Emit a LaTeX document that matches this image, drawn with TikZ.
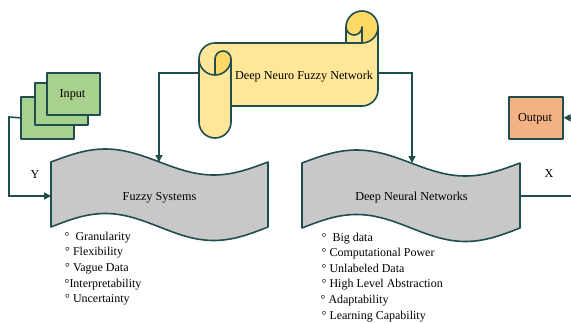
\documentclass[tikz,border=0pt]{standalone}
\usepackage{fontspec}
\setmainfont{Liberation Serif}
\usetikzlibrary{arrows.meta}
\definecolor{edge}{RGB}{31,78,77}
\definecolor{tapegray}{RGB}{200,200,200}
\definecolor{ingreen}{RGB}{169,209,142}
\definecolor{outorange}{RGB}{244,177,131}
\definecolor{scrollfill}{RGB}{255,230,153}
\definecolor{scrolldark}{RGB}{255,217,102}
\begin{document}
\begin{tikzpicture}[x=1pt,y=-1pt,
  every node/.style={font=\fontsize{12.2}{14}\selectfont, inner sep=0pt},
  outline/.style={draw=edge, line width=1.6pt, line join=round},
  conn/.style={draw=edge, line width=1.6pt},
  arr/.style={conn, -{Triangle[length=7pt,width=7pt]}},
  box/.style={outline, minimum width=53pt, minimum height=42pt, anchor=north west},
  item/.style={anchor=base west, font=\fontsize{12}{14}\selectfont},
  lbl/.style={anchor=base}
]
\useasboundingbox (0,0) rectangle (571,324);
\clip (0,0) rectangle (571,324);

% Input stack
\node[box, fill=ingreen] (in3) at (20,96) {};
\node[box, fill=ingreen] (in2) at (34,82) {};
\node[box, fill=ingreen] (in1) at (46,72) {};
\node[lbl] (intext) at (72.5,97.3) {Input};

% Output
\node[box, fill=outorange, minimum width=54pt] (out) at (508,96) {};
\node[lbl] (outtext) at (535,121.7) {Output};

% Fuzzy Systems tape
\path[outline, fill=tapegray] (51,162) sin (105.25,149) cos (159.5,162) sin (213.75,175) cos (268,162)
  -- (268,227) sin (213.75,240.5) cos (159.5,227) sin (105.25,213.5) cos (51,227) -- cycle;
\node[lbl] (fz) at (159.5,200) {Fuzzy Systems};

% Deep Neural Networks tape
\path[outline, fill=tapegray] (302,163) sin (356.5,150) cos (411,163) sin (465.5,176) cos (520,163)
  -- (520,228) sin (465.5,241.5) cos (411,228) sin (356.5,214.5) cos (302,228) -- cycle;
\node[lbl] (nn) at (411.5,200) {Deep Neural Networks};

% Scroll
\fill[scrollfill] (378,27) arc[start angle=0,end angle=90,radius=16] -- (362,27)
  arc[start angle=0,end angle=180,radius=8] -- (346,43) -- (215,43)
  arc[start angle=270,end angle=180,radius=16] -- (199,122)
  arc[start angle=180,end angle=0,radius=16] -- (231,106) -- (362,106)
  arc[start angle=90,end angle=0,radius=16] -- cycle;
\fill[scrolldark] (215,75) arc[start angle=90,end angle=0,radius=16]
  arc[start angle=0,end angle=-180,radius=8] -- cycle;
\fill[scrolldark] (362,43) arc[start angle=90,end angle=-180,radius=16]
  arc[start angle=180,end angle=0,radius=8] -- cycle;
\draw[outline] (199,59) arc[start angle=180,end angle=270,radius=16] -- (346,43) -- (346,27)
  arc[start angle=180,end angle=360,radius=16] -- (378,90)
  arc[start angle=0,end angle=90,radius=16] -- (231,106) -- (231,122)
  arc[start angle=0,end angle=180,radius=16] -- cycle;
\draw[outline] (346,43) -- (362,43) arc[start angle=90,end angle=0,radius=16];
\draw[outline] (362,43) -- (362,27) arc[start angle=0,end angle=180,radius=8];
\draw[outline] (215,75) -- (215,59) arc[start angle=180,end angle=360,radius=8]
  arc[start angle=0,end angle=180,radius=16];
\draw[outline] (231,59) -- (231,106);
\node[lbl] (dnfn) at (304,79.5) {Deep Neuro Fuzzy Network};

% connector coordinates
\coordinate (scL) at (199,73);
\coordinate (scR) at (378,73);
\coordinate (fzTop) at (159,162);
\coordinate (nnTop) at (412,163);
\coordinate (fzL) at (51,196);
\coordinate (lbend) at (9,117);
\coordinate (nnR) at (520,196);
\coordinate (rbend) at (576,196);

\draw[arr] (scL) -| (fzTop);
\draw[arr] (scR) -| (nnTop);
\draw[arr] (in3.west) -- (lbend) |- (fzL);
\draw[arr] (nnR) -- (rbend) |- (out.east);

\node[lbl] (ylab) at (35,178) {Y};
\node[lbl] (xlab) at (549,177) {X};

% lists
\node[item] (f1) at (64.5,240) {°~~Granularity};
\node[item] (f2) at (65,255.7) {°~Flexibility};
\node[item] (f3) at (65,271.4) {°~Vague Data};
\node[item] (f4) at (64.5,287) {°Interpretability};
\node[item] (f5) at (65,302.7) {°~Uncertainty};

\node[item] (n1) at (321.5,241) {°~~Big data};
\node[item] (n2) at (321.5,256.6) {°~Computational Power};
\node[item] (n3) at (321.5,272.2) {°~Unlabeled Data};
\node[item] (n4) at (321.5,287.8) {°~High Level Abstraction};
\node[item] (n5) at (320.5,303.4) {°~Adaptability};
\node[item] (n6) at (321.5,319) {°~Learning Capability};
\end{tikzpicture}
\end{document}
